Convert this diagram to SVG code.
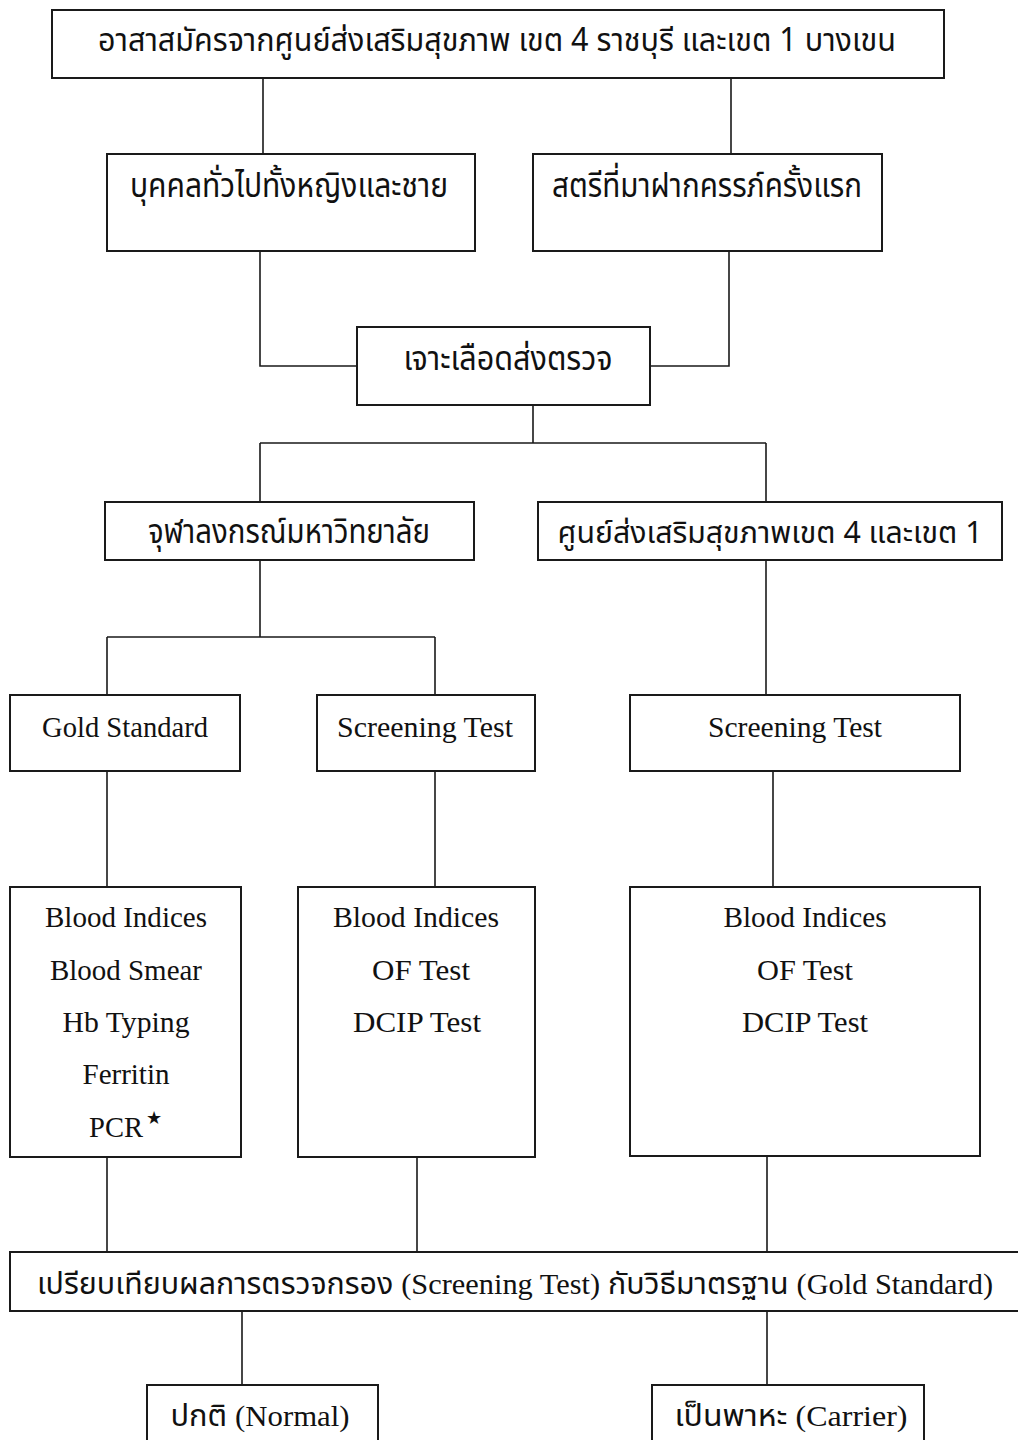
<svg xmlns="http://www.w3.org/2000/svg" width="1018" height="1440" viewBox="0 0 1018 1440">
<style>
.box{fill:#fff;stroke:#1a1a1a;stroke-width:2}
.con{fill:none;stroke:#1a1a1a;stroke-width:1.6}
.th{font-family:"Noto Sans Thai","Noto Sans","DejaVu Sans",sans-serif;font-size:34px;fill:#111;text-anchor:middle}
.thm{font-family:"Noto Sans Thai","Noto Sans","DejaVu Sans",sans-serif;font-size:30px;fill:#111;text-anchor:middle}
.en{font-family:"Liberation Serif","Times New Roman",serif;font-size:30px;fill:#111;text-anchor:middle}
.ser{font-family:"Liberation Serif","Times New Roman",serif}
</style>
<rect width="1018" height="1440" fill="#fff"/>
<g id="connectors">
<path class="con" d="M263 78V155M731 78V155"/>
<path class="con" d="M260 251V366H357M729 251V366H650"/>
<path class="con" d="M533 405V443M260 443H766M260 443V502M766 443V502"/>
<path class="con" d="M260 560V637M107 637H435M107 637V695M435 637V695"/>
<path class="con" d="M766 560V695"/>
<path class="con" d="M107 771V887M435 771V887M773 771V887"/>
<path class="con" d="M107 1157V1252M417 1157V1252M767 1156V1252"/>
<path class="con" d="M242 1311V1385M767 1311V1385"/>
</g>
<g id="n-volunteers">
<rect class="box" x="52" y="10" width="892" height="68"/>
<text class="th" x="497" y="51" style="font-size:32px" textLength="798" lengthAdjust="spacingAndGlyphs">อาสาสมัครจากศูนย์ส่งเสริมสุขภาพ เขต 4 ราชบุรี และเขต 1 บางเขน</text>
</g>
<g id="n-general">
<rect class="box" x="107" y="154" width="368" height="97"/>
<text class="th" x="289" y="197" textLength="318" lengthAdjust="spacingAndGlyphs">บุคคลทั่วไปทั้งหญิงและชาย</text>
</g>
<g id="n-pregnant">
<rect class="box" x="533" y="154" width="349" height="97"/>
<text class="th" x="707" y="197" textLength="310" lengthAdjust="spacingAndGlyphs">สตรีที่มาฝากครรภ์ครั้งแรก</text>
</g>
<g id="n-blood">
<rect class="box" x="357" y="327" width="293" height="78"/>
<text class="th" x="508" y="370" textLength="209" lengthAdjust="spacingAndGlyphs">เจาะเลือดส่งตรวจ</text>
</g>
<g id="n-chula">
<rect class="box" x="105" y="502" width="369" height="58"/>
<text class="th" x="289" y="543" textLength="282" lengthAdjust="spacingAndGlyphs">จุฬาลงกรณ์มหาวิทยาลัย</text>
</g>
<g id="n-center">
<rect class="box" x="538" y="502" width="464" height="58"/>
<text class="th" x="770" y="543" style="font-size:31px" textLength="425" lengthAdjust="spacingAndGlyphs">ศูนย์ส่งเสริมสุขภาพเขต 4 และเขต 1</text>
</g>
<g id="n-gold">
<rect class="box" x="10" y="695" width="230" height="76"/>
<text class="en" x="125" y="737" textLength="166" lengthAdjust="spacingAndGlyphs">Gold Standard</text>
</g>
<g id="n-screen1">
<rect class="box" x="317" y="695" width="218" height="76"/>
<text class="en" x="425" y="737" textLength="176" lengthAdjust="spacingAndGlyphs">Screening Test</text>
</g>
<g id="n-screen2">
<rect class="box" x="630" y="695" width="330" height="76"/>
<text class="en" x="795" y="737" textLength="174" lengthAdjust="spacingAndGlyphs">Screening Test</text>
</g>
<g id="n-goldlist">
<rect class="box" x="10" y="887" width="231" height="270"/>
<text class="en" x="126" y="927" textLength="162" lengthAdjust="spacingAndGlyphs">Blood Indices</text>
<text class="en" x="126" y="980" textLength="152" lengthAdjust="spacingAndGlyphs">Blood Smear</text>
<text class="en" x="126" y="1032" textLength="127" lengthAdjust="spacingAndGlyphs">Hb Typing</text>
<text class="en" x="126" y="1084" textLength="87" lengthAdjust="spacingAndGlyphs">Ferritin</text>
<text class="en" x="116" y="1137" textLength="54" lengthAdjust="spacingAndGlyphs">PCR</text>
<text class="en" x="154" y="1124" style="font-size:18px">★</text>
</g>
<g id="n-screenlist1">
<rect class="box" x="298" y="887" width="237" height="270"/>
<text class="en" x="416" y="927" textLength="166" lengthAdjust="spacingAndGlyphs">Blood Indices</text>
<text class="en" x="421" y="980" textLength="98" lengthAdjust="spacingAndGlyphs">OF Test</text>
<text class="en" x="417" y="1032" textLength="128" lengthAdjust="spacingAndGlyphs">DCIP Test</text>
</g>
<g id="n-screenlist2">
<rect class="box" x="630" y="887" width="350" height="269"/>
<text class="en" x="805" y="927" textLength="163" lengthAdjust="spacingAndGlyphs">Blood Indices</text>
<text class="en" x="805" y="980" textLength="96" lengthAdjust="spacingAndGlyphs">OF Test</text>
<text class="en" x="805" y="1032" textLength="126" lengthAdjust="spacingAndGlyphs">DCIP Test</text>
</g>
<g id="n-compare">
<rect class="box" x="10" y="1252" width="1010" height="59"/>
<text class="thm" x="515" y="1294" textLength="956" lengthAdjust="spacingAndGlyphs">เปรียบเทียบผลการตรวจกรอง <tspan class="ser">(Screening Test)</tspan> กับวิธีมาตรฐาน <tspan class="ser">(Gold Standard)</tspan></text>
</g>
<g id="n-normal">
<rect class="box" x="147" y="1385" width="231" height="70"/>
<text class="thm" x="260" y="1426" textLength="179" lengthAdjust="spacingAndGlyphs">ปกติ <tspan class="ser">(Normal)</tspan></text>
</g>
<g id="n-carrier">
<rect class="box" x="652" y="1385" width="272" height="70"/>
<text class="thm" x="791" y="1426" textLength="233" lengthAdjust="spacingAndGlyphs">เป็นพาหะ <tspan class="ser">(Carrier)</tspan></text>
</g>
</svg>
